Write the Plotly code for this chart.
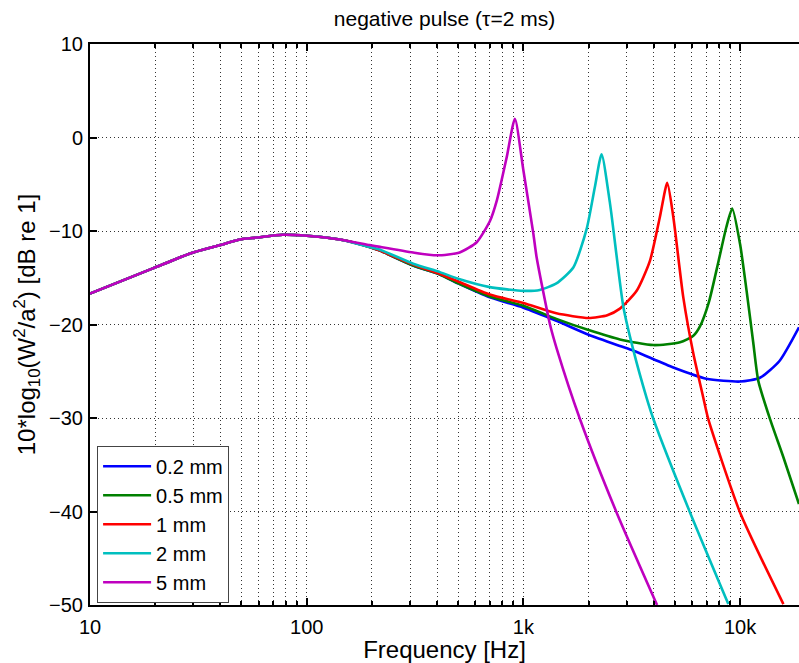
import plotly.graph_objects as go

# ---- data ----
freq_common = [10, 19.5, 29, 40, 49, 58.6, 77.6, 100, 142]
db_common = [-16.7, -14.0, -12.4, -11.5, -10.9, -10.7, -10.4, -10.5, -10.9]

f_02 = [195, 218, 310, 412, 500, 700, 1000, 1420, 2000, 2790, 3222, 4920, 6990, 10000, 12350, 15200, 18700]
db_02 = [-11.7, -12.1, -13.7, -14.65, -15.6, -17.1, -18.2, -19.6, -21.1, -22.3, -22.8, -24.6, -25.8, -26.1, -25.7, -23.9, -20.3]

f_05 = [195, 218, 310, 412, 500, 700, 1000, 1420, 2000, 2790, 3981, 5285, 6086, 6530, 7180, 7960, 8640, 9200,
        10000, 10720, 11500, 12130, 13740, 15850, 18700]
db_05 = [-11.7, -12.1, -13.7, -14.65, -15.6, -17.0, -18.0, -19.4, -20.6, -21.6, -22.2, -21.9, -21.2, -20.2, -17.6,
         -13.2, -9.6, -7.6, -11.4, -16.4, -21.9, -26.0, -30.1, -34.2, -39.2]

f_1 = [195, 218, 310, 412, 500, 700, 1000, 1420, 2000, 2440, 2790, 3333, 3837, 4266, 4613, 4920, 5470, 6086,
       6763, 7130, 10000, 15850]
db_1 = [-11.7, -12.1, -13.6, -14.6, -15.4, -16.8, -17.7, -18.8, -19.3, -19.0, -18.3, -16.4, -13.2, -8.5, -4.85,
        -8.5, -17.1, -23.1, -27.8, -30.1, -40.1, -49.9]

f_2 = [195, 218, 310, 412, 500, 700, 1000, 1190, 1420, 1700, 1958, 2138, 2296, 2512, 2893, 3222, 3710, 3981,
       5875, 8830]
db_2 = [-11.7, -12.0, -13.5, -14.4, -15.1, -16.0, -16.4, -16.3, -15.6, -13.9, -9.8, -5.3, -1.8, -7.1, -18.1,
        -22.8, -27.9, -30.1, -40.1, -49.9]

f_5 = [195, 218, 310, 399, 508, 609, 702, 755, 838, 914, 1000, 1112, 1151, 1327, 1426, 1824, 2692, 4140]
db_5 = [-11.5, -11.7, -12.3, -12.6, -12.3, -11.2, -8.9, -6.7, -2.1, 2.0, -3.5, -10.3, -12.8, -20.0, -22.6,
        -30.1, -40.1, -50.0]

series_names = ["0.2 mm", "0.5 mm", "1 mm", "2 mm", "5 mm"]
series_f = [f_02, f_05, f_1, f_2, f_5]
series_db = [db_02, db_05, db_1, db_2, db_5]
series_colors = ["#0000FF", "#008000", "#FF0000", "#00BFBF", "#BF00BF"]

x_major = [10, 100, 1000, 10000]
x_major_text = ["10", "100", "1k", "10k"]
x_minor = [m * d for d in (10, 100, 1000, 10000) for m in range(2, 10)]
y_ticks = [-50, -40, -30, -20, -10, 0, 10]

FONT = "Liberation Sans, Arial, Helvetica, sans-serif"

fig = go.Figure()
for name, fs, dbs, col in zip(series_names, series_f, series_db, series_colors):
    fig.add_trace(go.Scatter(
        x=freq_common + fs, y=db_common + dbs, name=name, mode="lines",
        line=dict(color=col, width=2.6, shape="spline", smoothing=0.6),
    ))

grid = dict(showgrid=True, gridcolor="#333333", gridwidth=1, griddash="1px,3px")

fig.update_layout(
    width=799, height=663,
    margin=dict(l=90, r=0, t=44, b=58, autoexpand=False),
    paper_bgcolor="white", plot_bgcolor="white",
    font=dict(family=FONT, size=20, color="black"),
    title=dict(text="negative pulse (\u03c4=2 ms)", x=0.5, xref="paper", xanchor="center",
               y=1 - 19 / 663, yref="container", yanchor="middle", font=dict(size=21)),
    showlegend=True,
    legend=dict(x=0.01, y=0.004, xanchor="left", yanchor="bottom", bgcolor="white",
                bordercolor="#444444", borderwidth=1, font=dict(size=20),
                tracegroupgap=0, itemwidth=48),
    xaxis=dict(
        type="log", range=[1, 4.272], tickvals=x_major, ticktext=x_major_text,
        ticks="inside", ticklen=7, tickwidth=2, tickcolor="black",
        showline=True, linecolor="black", linewidth=2, mirror="allticks",
        ticklabelstandoff=3, automargin=False,
        minor=dict(tickvals=x_minor, ticks="inside", ticklen=4, tickwidth=1.5, tickcolor="black",
                   showgrid=True, gridcolor="#333333", gridwidth=1, griddash="1px,3px"),
        title=dict(text="Frequency [Hz]", standoff=4),
        zeroline=False, **grid,
    ),
    yaxis=dict(
        range=[-50, 10], tickvals=y_ticks,
        ticks="inside", ticklen=7, tickwidth=2, tickcolor="black",
        showline=True, linecolor="black", linewidth=2, mirror=False,
        ticklabelstandoff=1, automargin=False,
        title=dict(text="10*log<sub>10</sub>(W<sup>2</sup>/a<sup>2</sup>) [dB re 1]", standoff=7),
        zeroline=False, **grid,
    ),
)

# remove the default 8px page margin so the figure fills the 799x663 window exactly
fig.write_html("out.html",
               config={"displayModeBar": False},
               post_script="document.body.style.margin='0';document.body.style.overflow='hidden';")
